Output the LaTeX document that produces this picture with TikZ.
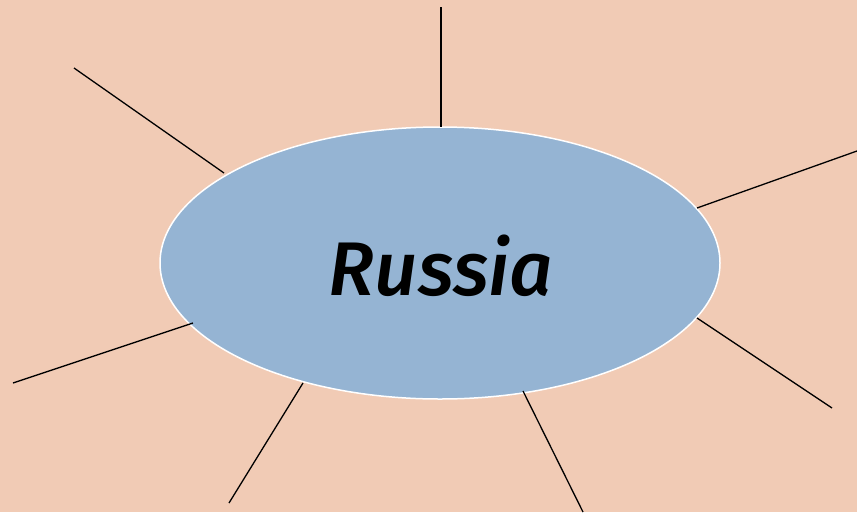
\documentclass[tikz,border=0pt]{standalone}
\usepackage{fontspec}
\setmainfont{Fira Sans}
\newfontfamily\ttlfont{Fira Sans Medium Italic}
\usetikzlibrary{shapes.geometric}
\definecolor{bgpeach}{RGB}{241,203,181}
\definecolor{ellblue}{RGB}{149,180,211}
\begin{document}
\begin{tikzpicture}[x=1pt,y=-1pt,
  spoke/.style={draw=black,line width=1.3pt},
  hub/.style={ellipse,fill=ellblue,draw=white,line width=1.5pt,minimum width=560pt,minimum height=272pt,inner sep=0pt}]
\fill[bgpeach] (0,0) rectangle (857,512);
\useasboundingbox (0,0) rectangle (857,512);
\node[hub] (e) at (440,263) {};
\node[font=\ttlfont\fontsize{76}{80}\selectfont] (t) at (441,266) {Russia};
\coordinate (a1) at (441,7);   \coordinate (b1) at (441,127);
\coordinate (a2) at (74,68);   \coordinate (b2) at (224,173);
\coordinate (a3) at (857,151); \coordinate (b3) at (697,208);
\coordinate (a4) at (13,383);  \coordinate (b4) at (193,323);
\coordinate (a5) at (229,503); \coordinate (b5) at (303,383);
\coordinate (a6) at (583,512); \coordinate (b6) at (523,391);
\coordinate (a7) at (832,408); \coordinate (b7) at (697,318);
\foreach \i in {1,...,7}{\draw[spoke] (a\i) -- (b\i);}
\end{tikzpicture}
\end{document}
